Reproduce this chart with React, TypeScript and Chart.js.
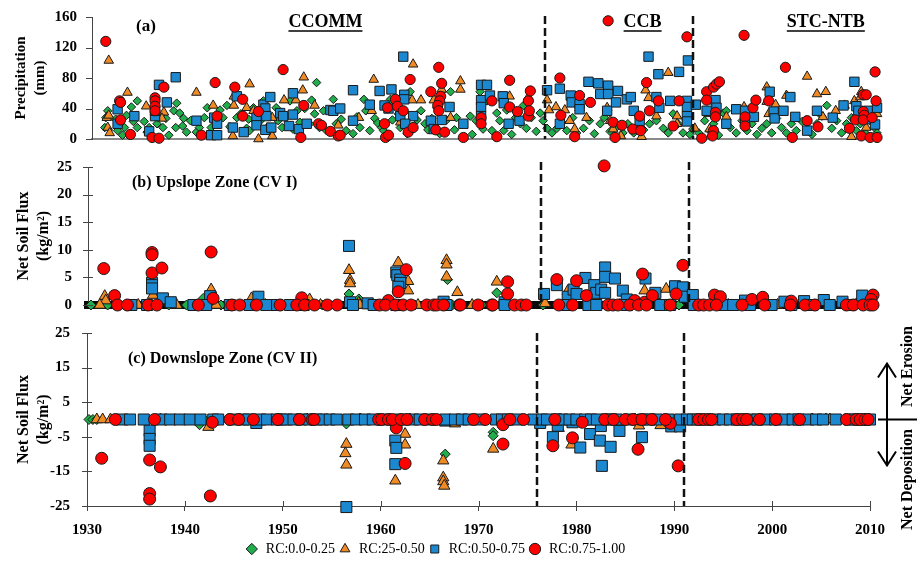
import React, { useEffect, useRef } from 'react';
import { Chart, registerables } from 'chart.js';

Chart.register(...registerables);

type Pair = [number, number];

// ---------------- shared labels ----------------
const seriesLabels = ['RC:0.0-0.25', 'RC:25-0.50', 'RC:0.50-0.75', 'RC:0.75-1.00'];
const periodBreaks = [1976, 1991];
const periodNames = ['CCOMM', 'CCB', 'STC-NTB'];
const periodLabelYears = [1953.7, 1985.9, 2004.5];
const yearMin = 1930;
const yearMax = 2010;

// ---------------- (a) Precipitation (mm) ----------------
const precipGreen: Pair[] = [
  [1931.4, 28], [1931.3, 15], [1931.6, 37], [1932.4, 26], [1932.6, 11], [1933.1, 5], [1933.3, 15], [1933.5, 31],
  [1934.0, 42], [1934.2, 23], [1934.6, 50], [1934.6, 15], [1935.3, 23], [1935.6, 9], [1935.8, 15], [1936.6, 20],
  [1937.2, 15], [1937.5, 27], [1937.8, 5], [1938.3, 37], [1938.5, 15], [1938.6, 47], [1938.9, 34], [1939.3, 27],
  [1939.2, 17], [1939.6, 9], [1940.0, 24], [1940.6, 9], [1940.9, 15], [1941.4, 28], [1941.7, 41], [1942.1, 15],
  [1943.0, 38], [1943.3, 28], [1943.7, 44], [1944.0, 16], [1944.7, 28], [1945.1, 33], [1945.7, 14], [1945.9, 26],
  [1946.0, 11], [1946.4, 41], [1947.1, 24], [1947.4, 50], [1947.7, 14], [1948.1, 9], [1948.7, 41], [1948.9, 24],
  [1949.3, 15], [1949.8, 30], [1950.1, 50], [1950.4, 13], [1950.8, 37], [1951.1, 22], [1951.6, 40], [1952.1, 20],
  [1952.3, 51], [1952.8, 74], [1952.6, 33], [1953.1, 15], [1953.5, 37], [1953.8, 11], [1954.5, 52], [1954.8, 20],
  [1955.3, 26], [1955.8, 11], [1956.5, 7], [1956.9, 29], [1957.2, 15], [1957.6, 52], [1957.8, 37], [1958.2, 11],
  [1958.7, 27], [1959.0, 21], [1959.4, 15], [1959.6, 11], [1960.3, 52], [1960.5, 25], [1961.1, 33], [1961.3, 15],
  [1962.3, 62], [1962.0, 7], [1963.0, 25], [1963.4, 37], [1963.8, 20], [1964.1, 12], [1964.5, 27], [1965.0, 41],
  [1965.3, 7], [1965.5, 62], [1966.0, 25], [1966.4, 62], [1966.8, 12], [1967.0, 28],
  [1968.4, 30], [1968.6, 6], [1969.0, 24], [1969.4, 62], [1969.7, 13], [1970.1, 50], [1970.6, 11], [1971.1, 34],
  [1971.4, 24], [1971.8, 11], [1972.1, 38], [1972.6, 6], [1973.0, 28], [1973.5, 20], [1973.8, 44], [1974.1, 14],
  [1974.6, 28], [1975.1, 10], [1975.5, 34], [1975.8, 24], [1976.2, 14], [1976.7, 8], [1977.2, 14], [1977.7, 22],
  [1978.2, 11], [1978.8, 28], [1979.2, 8], [1979.9, 14], [1980.5, 24], [1981.0, 7], [1981.6, 20], [1982.0, 28],
  [1982.6, 10], [1983.3, 16], [1983.9, 8], [1984.4, 20], [1985.0, 8], [1985.5, 14], [1986.0, 12], [1986.6, 20],
  [1987.3, 24], [1988.0, 14], [1988.5, 8], [1989.0, 33], [1989.5, 20], [1990.0, 8], [1990.7, 6], [1991.0, 13],
  [1991.6, 8], [1992.2, 24], [1992.7, 11], [1993.1, 20], [1993.6, 5], [1994.1, 34], [1994.4, 37], [1994.8, 15],
  [1995.4, 8], [1996.0, 24], [1996.5, 11], [1997.0, 20], [1997.5, 6], [1998.0, 14], [1998.5, 20], [1999.0, 8],
  [1999.5, 27], [2000.0, 15], [2000.5, 8], [2001.0, 20], [2001.5, 11], [2002.1, 23], [2002.6, 13], [2003.1, 6],
  [2003.6, 20], [2004.1, 30], [2004.6, 44], [2005.1, 14], [2005.6, 24], [2006.1, 8], [2006.6, 20], [2007.1, 28],
  [2007.6, 11], [2008.0, 20], [2008.5, 8], [2009.0, 24], [2009.5, 14], [2009.7, 8],
];
const precipOrange: Pair[] = [
  [1931.7, 103], [1931.5, 28], [1931.6, 15], [1931.8, 8], [1931.7, 31], [1933.6, 61], [1935.5, 43], [1937.3, 35],
  [1937.1, 27], [1940.6, 61], [1942.3, 44], [1944.4, 56], [1944.4, 44], [1944.3, 4], [1946.0, 72], [1945.7, 41],
  [1946.4, 37], [1946.9, 0], [1948.3, 28], [1948.3, 4], [1949.5, 51], [1950.7, 51], [1951.4, 64], [1951.5, 81],
  [1952.6, 44], [1955.0, 18], [1957.1, 28], [1958.6, 78], [1958.4, 37], [1961.0, 43], [1961.3, 22], [1962.6, 98],
  [1962.5, 51], [1963.4, 51], [1964.7, 51], [1965.5, 65], [1967.4, 76], [1967.4, 65], [1966.4, 28],
  [1972.4, 56], [1974.3, 55], [1976.2, 51], [1976.4, 38], [1977.1, 42], [1978.0, 38], [1978.5, 24], [1979.0, 13],
  [1979.5, 41], [1980.2, 28], [1982.3, 41], [1982.6, 24], [1982.9, 13], [1983.7, 4], [1985.8, 3], [1986.2, 64],
  [1986.5, 54], [1987.3, 30], [1988.5, 87], [1989.4, 30], [1989.4, 20], [1991.2, 14], [1992.6, 33], [1992.7, 13],
  [1994.4, 29], [1996.2, 42], [1998.5, 68], [1998.5, 49], [1998.7, 33], [1999.4, 45], [2000.5, 57], [2002.6, 82],
  [2003.6, 59], [2004.5, 62], [2004.2, 29], [2005.5, 37], [2006.4, 44], [2007.4, 50], [2008.0, 55], [2008.1, 62],
  [2008.2, 26], [2008.6, 15], [2007.1, 3], [2009.7, 33],
];
const precipBlue: Pair[] = [
  [1932.6, 39], [1932.6, 20], [1934.3, 30], [1935.8, 10], [1936.4, 30], [1936.4, 37], [1936.8, 71], [1937.6, 48],
  [1938.5, 81], [1940.6, 24], [1942.1, 5], [1942.7, 5], [1942.4, 28], [1942.7, 20], [1944.3, 15], [1944.7, 56],
  [1945.4, 9], [1946.7, 28], [1946.7, 18], [1947.4, 45], [1947.6, 40], [1947.7, 30], [1947.6, 12], [1948.2, 15],
  [1948.1, 55], [1949.1, 34], [1949.4, 30], [1950.0, 17], [1950.4, 60], [1950.4, 32], [1951.0, 13], [1951.8, 20],
  [1954.2, 38], [1954.5, 37], [1955.2, 40], [1956.5, 64], [1956.5, 24], [1958.2, 45], [1959.2, 63], [1960.4, 65],
  [1959.7, 44], [1960.1, 40], [1961.6, 108], [1961.7, 58], [1961.7, 52], [1961.3, 30], [1962.6, 30], [1961.8, 20],
  [1964.4, 24], [1964.7, 13], [1965.5, 25], [1966.3, 42],
  [1967.7, 20], [1969.5, 71], [1970.1, 71], [1969.5, 51], [1969.5, 42], [1969.5, 30], [1970.4, 57], [1971.7, 56],
  [1971.8, 47], [1972.3, 20], [1973.4, 24], [1976.2, 64], [1977.5, 66], [1977.5, 20], [1978.6, 57], [1978.7, 48],
  [1979.5, 46], [1979.5, 39], [1980.4, 75], [1981.4, 73], [1981.6, 59], [1982.4, 70], [1983.4, 63], [1982.4, 59],
  [1982.3, 37], [1983.2, 48], [1984.3, 52], [1984.7, 55], [1985.0, 37], [1985.6, 24], [1986.5, 108], [1987.5, 85],
  [1987.3, 55], [1987.6, 41], [1988.7, 50], [1989.6, 88], [1990.5, 103], [1990.4, 50], [1990.4, 42], [1990.4, 30],
  [1990.4, 23], [1991.3, 45], [1992.4, 37], [1993.3, 51], [1993.4, 41], [1994.4, 20], [1995.4, 39], [1996.3, 37],
  [1996.3, 23], [1997.2, 29], [1998.8, 62], [1999.2, 36], [1999.3, 27], [2000.2, 37], [2000.9, 55], [2001.4, 29],
  [2002.6, 11], [2003.6, 37], [2005.2, 28], [2006.3, 44], [2007.4, 75], [2007.6, 43], [2007.8, 37], [2008.8, 37],
  [2008.9, 26], [2009.7, 41], [2009.5, 19],
];
const precipRed: Pair[] = [
  [1931.4, 128], [1932.8, 50], [1932.9, 48], [1932.9, 25], [1933.9, 6], [1936.1, 2], [1936.8, 1], [1936.4, 54],
  [1936.4, 50], [1936.4, 43], [1936.4, 37], [1937.3, 68], [1941.1, 5], [1942.5, 74], [1942.7, 30], [1944.5, 68],
  [1945.3, 52], [1945.3, 30], [1946.9, 36], [1949.4, 91], [1951.2, 2], [1951.5, 44], [1953.0, 20], [1953.3, 18],
  [1954.2, 10], [1955.0, 4], [1955.2, 5], [1959.7, 20], [1959.8, 2], [1960.0, 41], [1960.1, 5], [1960.8, 52],
  [1961.0, 43], [1961.6, 37], [1962.1, 9], [1962.3, 78], [1962.6, 15], [1964.4, 62], [1965.2, 94], [1965.5, 73],
  [1965.4, 56], [1965.3, 50], [1965.1, 44], [1965.2, 37], [1964.9, 12], [1965.8, 9],
  [1967.7, 2], [1969.5, 28], [1969.5, 20], [1970.6, 50], [1971.1, 3], [1972.4, 77], [1972.4, 42], [1973.2, 36],
  [1974.3, 50], [1974.3, 30], [1974.4, 37], [1974.5, 63], [1977.5, 80], [1977.6, 31], [1979.0, 3], [1979.5, 57],
  [1980.6, 48], [1982.9, 22], [1982.4, 155], [1983.1, 2], [1983.8, 18], [1984.9, 13], [1985.6, 30], [1985.7, 11],
  [1986.3, 74], [1986.6, 37], [1987.5, 50], [1989.0, 17], [1989.6, 50], [1990.4, 134], [1991.9, 1], [1992.4, 62],
  [1992.4, 51], [1993.1, 68], [1993.4, 72], [1993.7, 75], [1993.1, 11], [1993.0, 4], [1993.3, 35], [1993.3, 29],
  [1996.2, 136], [1996.3, 29], [1996.3, 17], [1997.1, 41], [1997.4, 51], [1998.7, 50], [2000.4, 94], [2001.1, 2],
  [2002.6, 24], [2003.7, 16], [2006.9, 14], [2007.5, 25], [2008.1, 4], [2008.3, 58], [2008.6, 58], [2008.3, 36],
  [2008.4, 31], [2008.3, 25], [2009.0, 2], [2009.2, 28], [2009.5, 88], [2009.6, 50], [2009.7, 2],
];

// ---------------- (b) Upslope zone, net soil flux (kg/m2) ----------------
const upGreen: Pair[] = [[1941.7, 1.2], [1956.5, 2.0], [1957.5, 1.1], [1966.5, 4.6], [1971.5, 2.2]];
const upOrange: Pair[] = [
  [1931.7, 1.6], [1931.8, 0.8], [1936.6, 1.8], [1942.5, 2.8], [1946.6, 1.2], [1952.5, 1.0], [1956.5, 6.3],
  [1956.6, 4.5], [1956.6, 3.9], [1957.5, 0.4], [1961.5, 7.7], [1962.5, 4.3], [1962.5, 2.6], [1966.4, 8.1],
  [1966.4, 7.3], [1966.4, 5.1], [1967.5, 2.3], [1971.5, 4.2], [1976.4, 0.3], [1978.7, 2.5], [1986.5, 2.6],
  [1988.7, 2.9], [2008.0, 0.1],
];
const upBlue: Pair[] = [
  [1936.5, 4.0], [1936.5, 3.6], [1936.5, 3.0], [1937.6, 1.2], [1938.4, 0.5], [1942.4, 1.6], [1947.3, 1.5],
  [1956.5, 10.7], [1956.6, 0.5], [1958.4, 0.3], [1961.3, 5.9], [1961.4, 5.4], [1961.7, 4.6], [1961.7, 4.0],
  [1961.5, 3.3], [1966.1, 0.6], [1972.3, 0.5], [1976.3, 2.0], [1977.6, 3.6], [1978.7, 1.5], [1979.3, 2.8],
  [1979.6, 2.0], [1980.5, 4.9], [1981.4, 3.6], [1981.6, 2.2], [1982.1, 2.8], [1982.5, 6.8], [1982.5, 5.1],
  [1982.5, 2.2], [1983.5, 4.8], [1984.3, 2.6], [1984.7, 1.0], [1986.6, 4.8], [1987.6, 2.2], [1989.6, 3.4],
  [1990.4, 3.2], [1990.6, 1.5], [1991.4, 1.8], [1996.7, 0.8], [2000.7, 0.6], [2002.7, 0.7], [2004.7, 0.9],
  [2006.6, 0.6], [2008.6, 1.7],
];
const upRed: Pair[] = [
  [1931.6, 6.6], [1932.7, 1.7], [1936.5, 9.5], [1936.5, 9.1], [1936.5, 5.8], [1937.5, 6.7], [1942.5, 9.6],
  [1942.7, 1.2], [1951.7, 1.3], [1962.3, 6.4], [1961.5, 2.4], [1960.5, 0.8], [1972.6, 4.2], [1972.6, 2.0],
  [1977.6, 4.6], [1979.6, 4.4], [1980.6, 1.7], [1982.4, 25.2], [1986.3, 5.6], [1985.5, 0.8], [1986.5, 0.5],
  [1987.3, 1.7], [1989.7, 2.0], [1990.4, 7.2], [1993.6, 1.8], [1994.2, 1.5], [1997.4, 1.0], [1998.5, 1.4],
  [2001.4, 0.7], [2009.7, 1.8], [2009.5, 1.0],
];
// years with zero net flux (on the baseline)
const upZeroGreen = [1930.3, 1932.0, 1934.8, 1938.2, 1940.0, 1943.5, 1946.0, 1948.8, 1951.0, 1953.8, 1957.2, 1960.0,
  1963.2, 1967.0, 1970.0, 1973.6, 1976.2, 1981.0, 1985.3, 1990.0, 1994.0, 1999.0, 2004.0, 2008.0];
const upZeroOrange = [1931.2, 1935.1, 1939.0, 1943.0, 1948.0, 1953.6, 1957.6, 1963.5, 1969.0, 1972.0, 1979.0, 1984.0,
  1988.0, 1995.0, 2000.0, 2005.2];
const upZeroBlue = [1934.4, 1936.0, 1940.7, 1942.0, 1944.4, 1946.4, 1948.1, 1949.2, 1950.5, 1951.9, 1956.9, 1959.0,
  1961.3, 1966.4, 1972.3, 1978.6, 1980.8, 1981.6, 1984.7, 1988.1, 1989.1, 1991.5, 1994.5, 1995.5, 1997.2, 1999.4,
  2001.4, 2003.5, 2005.3, 2007.4];
const upZeroRed = [1933.0, 1934.0, 1936.1, 1937.0, 1941.2, 1944.6, 1945.4, 1947.1, 1949.5, 1951.2, 1952.0, 1953.0,
  1954.3, 1955.3, 1959.6, 1960.2, 1961.2, 1962.0, 1962.8, 1964.4, 1965.1, 1965.4, 1966.1, 1967.7, 1967.8, 1969.6,
  1971.0, 1971.1, 1973.3, 1974.0, 1974.5, 1977.8, 1979.2, 1982.8, 1983.3, 1983.8, 1985.0, 1985.9, 1986.7, 1989.1,
  1992.0, 1992.5, 1993.1, 1993.8, 1996.4, 1998.7, 2001.3, 2002.8, 2003.8, 2007.0, 2007.7, 2008.7, 2009.4, 2009.7];

// ---------------- (c) Downslope zone, net soil flux (kg/m2) ----------------
const downGreen: Pair[] = [[1966.6, -10], [1956.5, -1.3], [1941.5, -1.5], [1971.5, -3.7], [1971.5, -4.7]];
const downOrange: Pair[] = [
  [1956.5, -7.1], [1956.4, -9.8], [1956.5, -13.1], [1961.5, -17.7], [1962.5, -4.2], [1962.5, -7.3], [1942.4, -2.2],
  [1966.4, -11.9], [1966.4, -16.8], [1966.4, -17.9], [1966.5, -19.2], [1967.6, -1.2], [1971.5, -8.5],
  [1978.2, -2.5], [1979.5, -7.3], [1986.4, -1.8], [1988.6, -1.7],
];
const downBlue: Pair[] = [
  [1936.4, -3.2], [1936.4, -5.6], [1936.4, -7.6], [1947.3, -1], [1956.5, -25.3], [1961.5, -6.1], [1961.6, -8.2],
  [1961.5, -12.9], [1966.6, -0.3], [1976.3, -1], [1977.6, -5.1], [1978.1, -1.8], [1979.6, -0.8], [1980.4, -8.1],
  [1981.4, -4.2], [1982.4, -6.1], [1982.5, -1.9], [1983.5, -7.9], [1982.6, -13.4], [1984.4, -3.3], [1986.7, -5.1],
  [1989.7, -2], [1990.6, -2],
];
const downRed: Pair[] = [
  [1931.5, -11.2], [1936.4, -11.7], [1936.4, -21.4], [1936.4, -23], [1937.5, -13.7], [1942.6, -22.1],
  [1942.8, -0.8], [1961.6, -2.4], [1962.5, -12.7], [1972.5, -1.5], [1972.5, -7.1], [1977.6, -7.6], [1979.6, -5.3],
  [1980.6, -0.8], [1986.3, -8.6], [1989.6, -1.1], [1990.4, -13.4],
];
const downZeroGreen = [1930.2, 1930.6, 1931.0, 1940.0, 1942.0, 1944.3, 1952.4, 1957.8, 1968.7, 1975.2, 1976.0];
const downZeroOrange = [1931.0, 1931.6, 1932.4, 1937.5, 1952.5, 1957.9, 1963.0, 1978.3, 1986.0, 2004.1, 2005.5, 2005.9];
const downZeroBlue = [1933.6, 1934.4, 1935.8, 1937.6, 1938.5, 1939.5, 1940.5, 1941.6, 1942.9, 1943.4, 1944.9, 1946.0,
  1946.5, 1947.7, 1948.4, 1949.4, 1949.9, 1950.4, 1951.1, 1951.9, 1952.7, 1953.5, 1954.1, 1954.8, 1955.5, 1956.7,
  1957.5, 1958.4, 1959.2, 1960.5, 1962.0, 1963.3, 1964.0, 1965.0, 1966.6, 1967.6, 1968.3, 1969.0, 1970.2, 1971.8,
  1972.4, 1973.0, 1974.0, 1975.6, 1976.5, 1977.0, 1978.0, 1978.6, 1979.3, 1980.0, 1980.9, 1981.5, 1982.1, 1983.1,
  1983.6, 1984.1, 1985.5, 1986.8, 1987.5, 1988.2, 1989.4, 1990.6, 1991.3, 1991.9, 1992.4, 1993.2, 1994.2, 1995.0,
  1995.7, 1996.4, 1996.9, 1997.8, 1998.5, 1999.4, 2000.3, 2001.3, 2002.1, 2002.7, 2003.7, 2004.5, 2005.2, 2006.5,
  2007.9, 2008.4, 2009.0, 2009.5, 2010.0];
const downZeroRed = [1932.9, 1936.9, 1944.6, 1945.5, 1947.0, 1949.5, 1951.7, 1953.0, 1953.2, 1959.8, 1960.1, 1960.8,
  1961.2, 1962.1, 1962.7, 1964.5, 1965.3, 1965.7, 1969.5, 1970.7, 1973.2, 1974.6, 1977.8, 1982.9, 1983.8, 1985.0,
  1985.8, 1986.7, 1987.7, 1989.1, 1992.5, 1993.0, 1993.5, 1993.8, 1996.4, 1997.0, 1997.4, 1998.7, 2000.4, 2002.8,
  2007.6, 2008.6, 2009.0, 2009.5, 2009.8];

// ---------------- styling ----------------
const SERIF = '"Liberation Serif", "Times New Roman", Times, serif';
const EDGE = '#1a1a1a';
const STYLES = [
  { shape: 'rectRot', r: 5, fill: '#1fae4b', order: 3 },
  { shape: 'triangle', r: 6.5, fill: '#f08a24', order: 2 },
  { shape: 'rect', r: 7.8, fill: '#1b88d0', order: 1 },
  { shape: 'circle', r: 6, fill: '#ff0000', order: 0 },
];

function withZeros(pairs: Pair[], zeros: number[]) {
  return [...pairs.map(([x, y]) => ({ x, y })), ...zeros.map((x) => ({ x, y: 0 }))];
}

function makeDatasets(groups: { x: number; y: number }[][], k: number) {
  return groups.map((data, i) => {
    const s = STYLES[i];
    return {
      label: seriesLabels[i],
      data,
      pointStyle: s.shape,
      pointRadius: s.r * k,
      pointHoverRadius: s.r * k,
      backgroundColor: s.fill,
      pointBackgroundColor: s.fill,
      borderColor: EDGE,
      pointBorderColor: EDGE,
      borderWidth: 1,
      pointBorderWidth: 1,
      showLine: false,
      clip: false,
      order: s.order,
    };
  });
}

function drawBreaks(chart: any, top: number) {
  const { ctx, chartArea, scales } = chart;
  ctx.save();
  ctx.strokeStyle = '#111';
  ctx.lineWidth = 2.5;
  ctx.setLineDash([8, 4]);
  periodBreaks.forEach((b) => {
    const px = Math.round(scales.x.getPixelForValue(b));
    ctx.beginPath();
    ctx.moveTo(px, top);
    ctx.lineTo(px, chartArea.bottom);
    ctx.stroke();
  });
  ctx.restore();
}

// visible y tick marks (outer and inner parts) and optional inner x tick marks
function drawTickMarks(chart: any, outer: number, inner: number, withX: boolean) {
  const { ctx, chartArea, scales } = chart;
  ctx.save();
  ctx.strokeStyle = '#444';
  ctx.lineWidth = 1;
  scales.y.ticks.forEach((t: any) => {
    const py = Math.round(scales.y.getPixelForValue(t.value)) + 0.5;
    ctx.beginPath();
    ctx.moveTo(chartArea.left - outer, py);
    ctx.lineTo(chartArea.left + inner, py);
    ctx.stroke();
  });
  if (withX) {
    scales.x.ticks.forEach((t: any) => {
      const px = Math.round(scales.x.getPixelForValue(t.value)) + 0.5;
      ctx.beginPath();
      ctx.moveTo(px, chartArea.bottom);
      ctx.lineTo(px, chartArea.bottom - 5);
      ctx.stroke();
    });
  }
  ctx.restore();
}

function boldText(ctx: any, s: string, x: number, y: number, size: number, align = 'left') {
  ctx.save();
  ctx.fillStyle = '#000';
  ctx.font = `bold ${size}px ${SERIF}`;
  ctx.textAlign = align;
  ctx.textBaseline = 'middle';
  ctx.fillText(s, x, y);
  ctx.restore();
}

function yAxis(min: number, max: number, step: number, width: number, title: string[], titleSize: number, titlePad: number, gap: number) {
  return {
    type: 'linear',
    min,
    max,
    ticks: {
      stepSize: step,
      color: '#000',
      padding: 2,
      font: { family: SERIF, size: 15, weight: 'bold' },
    },
    grid: { drawOnChartArea: false, tickLength: gap - 2, color: 'rgba(0,0,0,0)' },
    border: { display: true, color: '#444', width: 1 },
    title: {
      display: true,
      text: title,
      color: '#000',
      font: { family: SERIF, size: titleSize, weight: 'bold', lineHeight: 1.25 },
      padding: { top: titlePad, bottom: 0 },
    },
    afterFit: (s: any) => {
      s.width = width;
    },
  };
}

function hiddenX(borderColor: string, borderWidth: number) {
  return {
    type: 'linear',
    min: yearMin,
    max: yearMax,
    ticks: { display: false },
    grid: { display: false, drawTicks: false },
    border: { display: true, color: borderColor, width: borderWidth },
    afterFit: (s: any) => {
      s.height = 1;
    },
  };
}

function configA() {
  const overlay = {
    id: 'overlayA',
    afterDatasetsDraw(chart: any) {
      const { ctx, scales } = chart;
      drawBreaks(chart, 16);
      drawTickMarks(chart, 6, 0, false);
      boldText(ctx, '(a)', 146, 27, 17, 'center');
      periodNames.forEach((name, i) => {
        const cx = scales.x.getPixelForValue(periodLabelYears[i]);
        boldText(ctx, name, cx, 22, 18, 'center');
        ctx.save();
        ctx.font = `bold 18px ${SERIF}`;
        const w = ctx.measureText(name).width;
        ctx.strokeStyle = '#000';
        ctx.lineWidth = 1.5;
        ctx.beginPath();
        ctx.moveTo(cx - w / 2, 31);
        ctx.lineTo(cx + w / 2, 31);
        ctx.stroke();
        ctx.restore();
      });
    },
  };
  return {
    type: 'scatter',
    data: {
      datasets: makeDatasets([
        withZeros(precipGreen, []),
        withZeros(precipOrange, []),
        withZeros(precipBlue, []),
        withZeros(precipRed, []),
      ], 0.85),
    },
    options: {
      responsive: false,
      animation: false,
      events: [],
      layout: { padding: { top: 17, left: 0, right: 40, bottom: 10 } },
      plugins: { legend: { display: false }, tooltip: { enabled: false } },
      scales: {
        x: hiddenX('#8a8a8a', 2),
        y: yAxis(0, 160, 40, 92, ['Precipitation', '(mm)'], 15, 12, 15),
      },
    },
    plugins: [overlay],
  };
}

function configB() {
  const overlay = {
    id: 'overlayB',
    afterDatasetsDraw(chart: any) {
      const { ctx, chartArea } = chart;
      drawBreaks(chart, chartArea.top - 5);
      drawTickMarks(chart, 5, 5, false);
      boldText(ctx, '(b) Upslope Zone (CV I)', 132, 33, 16);
    },
  };
  return {
    type: 'scatter',
    data: {
      datasets: makeDatasets([
        withZeros(upGreen, upZeroGreen),
        withZeros(upOrange, upZeroOrange),
        withZeros(upBlue, upZeroBlue),
        withZeros(upRed, upZeroRed),
      ], 1),
    },
    options: {
      responsive: false,
      animation: false,
      events: [],
      layout: { padding: { top: 17, left: 0, right: 44, bottom: 12 } },
      plugins: { legend: { display: false }, tooltip: { enabled: false } },
      scales: {
        x: hiddenX('#0a0a0a', 8),
        y: yAxis(0, 25, 5, 88, ['Net Soil Flux', '(kg/m\u00b2)'], 16, 14, 16),
      },
    },
    plugins: [overlay],
  };
}

function configC() {
  const overlay = {
    id: 'overlayC',
    afterDatasetsDraw(chart: any) {
      const { ctx, chartArea, scales } = chart;
      drawBreaks(chart, chartArea.top);
      drawTickMarks(chart, 5, 5, true);
      boldText(ctx, '(c) Downslope Zone (CV II)', 128, 41, 16);
      // erosion / deposition annotation
      const y0 = scales.y.getPixelForValue(0);
      ctx.save();
      ctx.strokeStyle = '#000';
      ctx.lineWidth = 2;
      ctx.beginPath();
      ctx.moveTo(878, y0);
      ctx.lineTo(917, y0);
      ctx.moveTo(887, y0 - 56);
      ctx.lineTo(887, y0 + 46);
      ctx.moveTo(878, y0 - 42);
      ctx.lineTo(887, y0 - 56);
      ctx.lineTo(896, y0 - 42);
      ctx.moveTo(878, y0 + 32);
      ctx.lineTo(887, y0 + 46);
      ctx.lineTo(896, y0 + 32);
      ctx.stroke();
      ctx.restore();
      const rot = (s: string, x: number, y: number) => {
        ctx.save();
        ctx.translate(x, y);
        ctx.rotate(-Math.PI / 2);
        ctx.fillStyle = '#000';
        ctx.font = `bold 16px ${SERIF}`;
        ctx.textAlign = 'center';
        ctx.textBaseline = 'middle';
        ctx.fillText(s, 0, 0);
        ctx.restore();
      };
      rot('Net Erosion', 908, y0 - 53);
      rot('Net Deposition', 908, y0 + 60);
    },
  };
  return {
    type: 'scatter',
    data: {
      datasets: makeDatasets([
        withZeros(downGreen, downZeroGreen),
        withZeros(downOrange, downZeroOrange),
        withZeros(downBlue, downZeroBlue),
        withZeros(downRed, downZeroRed),
      ], 1),
    },
    options: {
      responsive: false,
      animation: false,
      events: [],
      layout: { padding: { top: 15, left: 0, right: 50, bottom: -4 } },
      plugins: {
        tooltip: { enabled: false },
        legend: {
          display: true,
          position: 'bottom',
          labels: {
            usePointStyle: true,
            boxHeight: 8,
            padding: 3,
            color: '#000',
            font: { family: SERIF, size: 14 },
            sort: (a: any, b: any) => a.datasetIndex - b.datasetIndex,
          },
        },
      },
      scales: {
        x: {
          type: 'linear',
          min: yearMin,
          max: yearMax,
          ticks: {
            stepSize: 10,
            color: '#000',
            padding: 10,
            font: { family: SERIF, size: 15, weight: 'bold' },
            callback: (v: any) => String(v),
          },
          grid: { drawOnChartArea: false, tickLength: 5, color: '#444' },
          border: { display: true, color: '#444', width: 1 },
          afterFit: (s: any) => {
            s.height = 33;
          },
        },
        y: yAxis(-25, 25, 10, 87, ['Net Soil Flux', '(kg/m\u00b2)'], 16, 14, 17),
      },
    },
    plugins: [overlay],
  };
}

export default function App() {
  const aRef = useRef<HTMLCanvasElement>(null);
  const bRef = useRef<HTMLCanvasElement>(null);
  const cRef = useRef<HTMLCanvasElement>(null);

  useEffect(() => {
    Chart.defaults.font.family = SERIF;
    const charts = [
      new Chart(aRef.current as any, configA() as any),
      new Chart(bRef.current as any, configB() as any),
      new Chart(cRef.current as any, configC() as any),
    ];
    return () => charts.forEach((c) => c.destroy());
  }, []);

  return (
    <div style={{ position: 'absolute', left: 0, top: 0, width: 920, height: 562, background: '#fff', overflow: 'hidden' }}>
      <canvas ref={aRef} width={920} height={150} style={{ position: 'absolute', left: 0, top: 0, width: 920, height: 150 }} />
      <canvas ref={bRef} width={920} height={168} style={{ position: 'absolute', left: 0, top: 150, width: 920, height: 168 }} />
      <canvas ref={cRef} width={920} height={244} style={{ position: 'absolute', left: 0, top: 318, width: 920, height: 244 }} />
    </div>
  );
}
